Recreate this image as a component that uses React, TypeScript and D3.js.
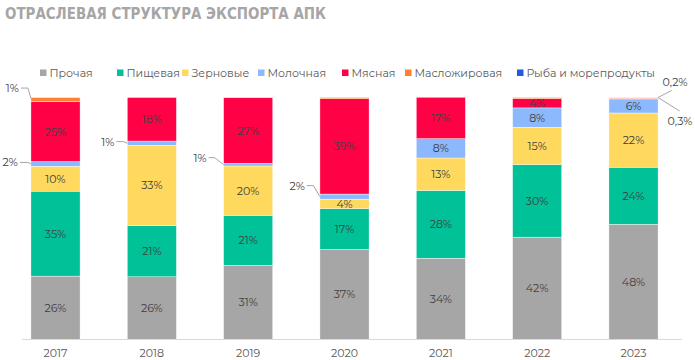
import React from 'react';
import * as d3 from 'd3';

const years = ['2017', '2018', '2019', '2020', '2021', '2022', '2023'];
const other = [26.2, 25.9, 30.7, 37.2, 33.6, 42.3, 47.6];
const food = [35.1, 21.1, 20.6, 16.9, 28.0, 30.0, 23.6];
const grain = [10.3, 33.3, 20.4, 3.9, 13.4, 15.4, 22.4];
const dairy = [1.9, 1.7, 1.1, 2.1, 8.0, 8.0, 5.8];
const meat = [24.8, 18.0, 27.1, 39.4, 17.1, 3.9, 0.3];
const oil = [1.7, 0, 0, 0.5, 0, 0.4, 0.2];
const fish = [0, 0, 0, 0, 0, 0, 0];

const seriesNames = ['Прочая', 'Пищевая', 'Зерновые', 'Молочная', 'Мясная', 'Масложировая', 'Рыба и морепродукты'];
const seriesKeys = ['other', 'food', 'grain', 'dairy', 'meat', 'oil', 'fish'];
const seriesColors = ['#a6a6a6', '#00c198', '#ffd85e', '#8cb9fd', '#ff0145', '#ff812d', '#1f5de0'];

// callouts: year, series, text
const callouts = [
  { year: '2017', key: 'oil', text: '1%', side: 'left', pts: [[-10, -11.5], [-3, -11.5], [0, -1]] },
  { year: '2017', key: 'dairy', text: '2%', side: 'left', pts: [[-11, -1.5], [-3, -1.5], [0, 0]] },
  { year: '2018', key: 'dairy', text: '1%', side: 'left', pts: [[-11, -1.5], [-4, -1.5], [0, 0]] },
  { year: '2019', key: 'dairy', text: '1%', side: 'left', pts: [[-15, -7], [-9, -7], [0, 0]] },
  { year: '2020', key: 'dairy', text: '2%', side: 'left', pts: [[-13, -11], [-6.5, -11], [0, 0]] },
  { year: '2023', key: 'oil', text: '0,2%', side: 'right', pts: [[0, 0], [13.5, -7]] },
  { year: '2023', key: 'meat', text: '0,3%', side: 'right', pts: [[0, 0], [21.5, 13.5]] },
];

const W = 695;
const H = 360;

export default function App() {
  const table = years.map((y, i) => ({
    year: y,
    other: other[i], food: food[i], grain: grain[i], dairy: dairy[i],
    meat: meat[i], oil: oil[i], fish: fish[i],
  }));
  const stack = d3.stack<any>().keys(seriesKeys)(table);

  const x = d3.scaleBand().domain(years).range([7, 682]).paddingInner(0.49).paddingOuter(0.2485);
  const y = d3.scaleLinear().domain([0, 100]).range([339.5, 97.5]);
  const bw = x.bandwidth();

  const legendX = [40, 117, 182, 258, 342, 405, 517];

  return (
    <svg width={W} height={H} style={{ position: 'absolute', left: 0, top: 0, fontFamily: 'Montserrat, "Open Sans", "DejaVu Sans", sans-serif' }}>
      <rect width={W} height={H} fill="#ffffff" />
      <text x={5} y={19} fontSize={15} fontWeight={700} fill="#a6a6a6" textLength={321} lengthAdjust="spacingAndGlyphs" style={{ fontFamily: '"DejaVu Sans", sans-serif' }}>
        ОТРАСЛЕВАЯ СТРУКТУРА ЭКСПОРТА АПК
      </text>

      {seriesNames.map((n, i) => (
        <g key={n} transform={`translate(${legendX[i]},73)`}>
          <rect x={0} y={-3.5} width={6.5} height={6.5} fill={seriesColors[i]} />
          <text x={9.5} y={4} fontSize={11} fill="#595959">{n}</text>
        </g>
      ))}

      {stack.map((s, si) => (
        <g key={s.key}>
          {s.map((d, i) => {
            const v = d[1] - d[0];
            if (v <= 0) return null;
            return (
              <rect key={i} x={x(years[i])} y={y(d[1])} width={bw} height={y(d[0]) - y(d[1])}
                fill={seriesColors[si]} stroke="#ffffff" strokeWidth={0.4} />
            );
          })}
        </g>
      ))}

      {stack.map((s, si) => (
        <g key={'l' + s.key}>
          {s.map((d, i) => {
            const v = d[1] - d[0];
            if (v < 3.5) return null;
            return (
              <text key={i} x={(x(years[i]) as number) + bw / 2} y={(y(d[0]) + y(d[1])) / 2 + 4}
                textAnchor="middle" fontSize={11} fill="#404040">{Math.round(v) + '%'}</text>
            );
          })}
        </g>
      ))}

      <line x1={22} x2={682} y1={339.5} y2={339.5} stroke="#d9d9d9" strokeWidth={1.2} />

      {years.map((yr) => (
        <text key={yr} x={(x(yr) as number) + bw / 2} y={357} textAnchor="middle" fontSize={11} fill="#595959">{yr}</text>
      ))}

      {callouts.map((c, k) => {
        const si = seriesKeys.indexOf(c.key);
        const yi = years.indexOf(c.year);
        const seg = stack[si][yi];
        const ax = c.side === 'left' ? (x(c.year) as number) : (x(c.year) as number) + bw;
        const ay = c.side === 'left' ? (y(seg[0]) + y(seg[1])) / 2 : y(100);
        const pts = c.pts.map(([dx, dy]) => [ax + dx, ay + dy]);
        const path = d3.line()(pts as [number, number][]) as string;
        const tp = c.side === 'left' ? pts[0] : pts[pts.length - 1];
        const tx = c.side === 'left' ? tp[0] - 2 : tp[0] + (c.key === 'oil' ? -9 : -12);
        const ty = c.side === 'left' ? tp[1] + 4 : tp[1] + (c.key === 'oil' ? -5 : 14);
        return (
          <g key={k}>
            <path d={path} fill="none" stroke="#a6a6a6" strokeWidth={1} />
            <text x={tx} y={ty} textAnchor={c.side === 'left' ? 'end' : 'start'} fontSize={11} fill="#404040">{c.text}</text>
          </g>
        );
      })}
    </svg>
  );
}
